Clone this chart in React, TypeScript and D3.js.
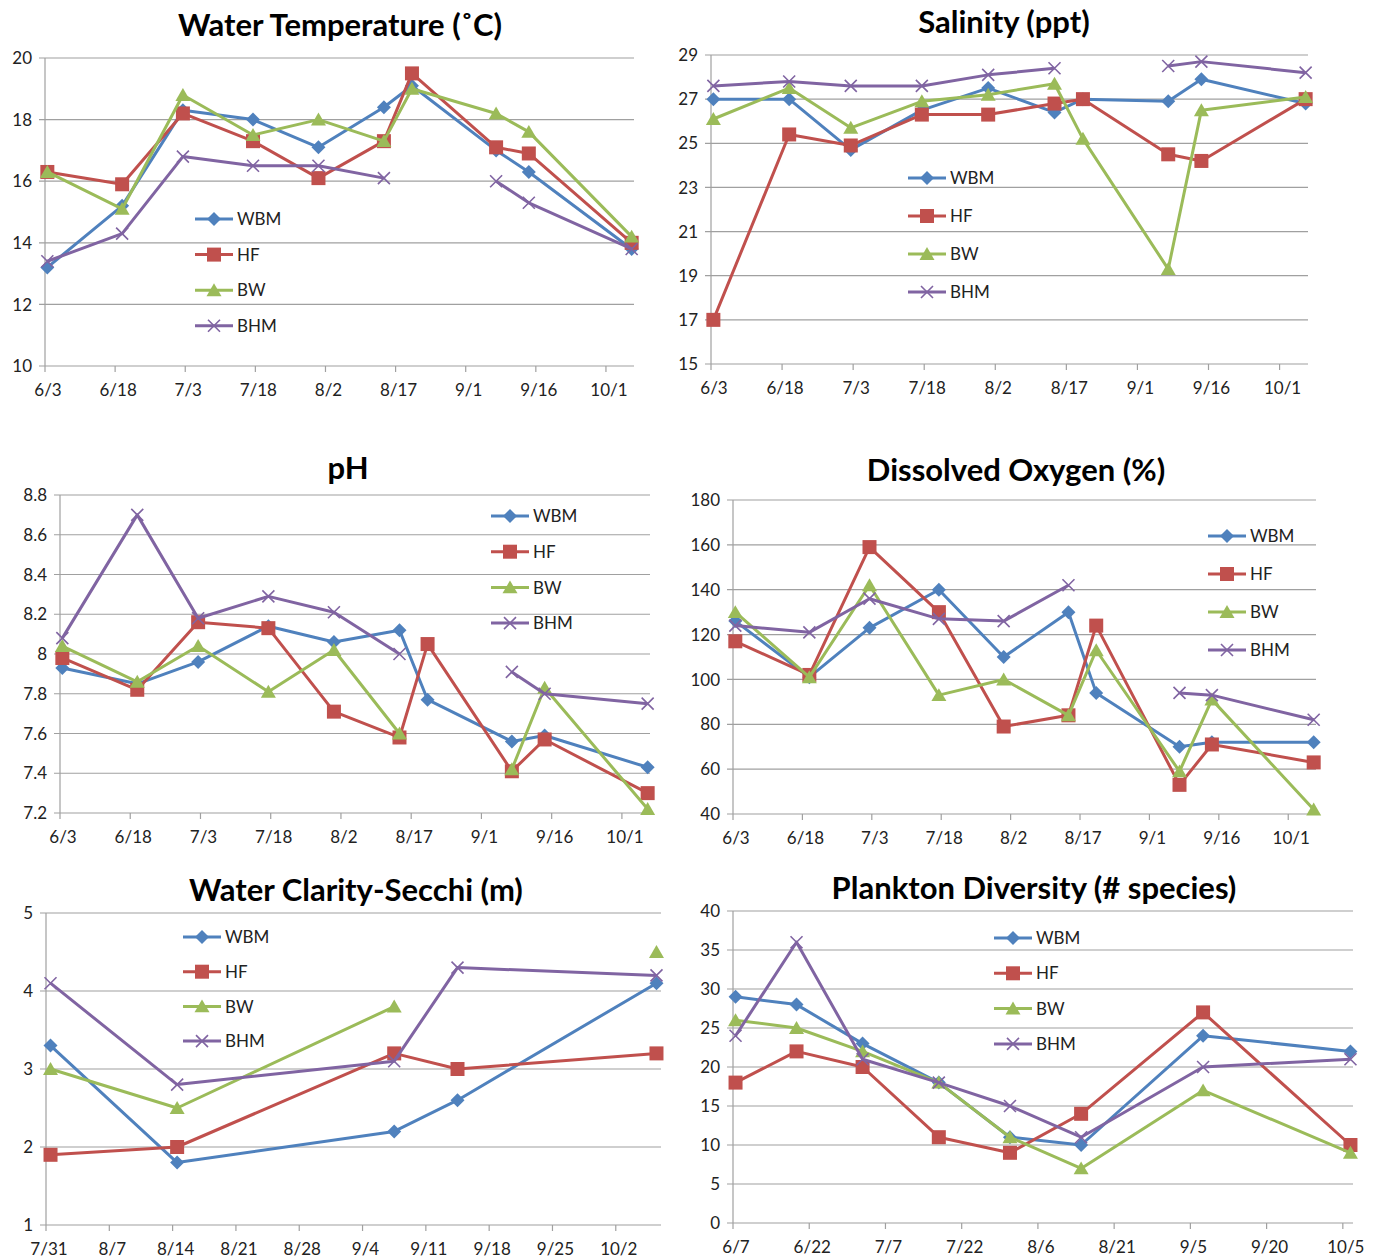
import React, { useEffect, useRef } from 'react';
import * as d3 from 'd3';

// series shared by every panel
const seriesNames = ['WBM', 'HF', 'BW', 'BHM'];
const seriesColors = ['#4F81BD', '#C0504D', '#9BBB59', '#8064A2'];
const seriesMarkers = ['diamond', 'square', 'triangle', 'cross'];

// sampling dates
const sampleDates = ['6/3', '6/19', '7/2', '7/17', '7/31', '8/14', '8/20', '9/7', '9/14', '10/6'];
const secchiDates = ['7/31', '8/14', '9/7', '9/14', '10/6'];
const planktonDates = ['6/7', '6/19', '7/2', '7/17', '7/31', '8/14', '9/7', '10/6'];

type V = number | null;

// Water temperature (C)
const tempWBM: V[] = [13.2, 15.2, 18.3, 18.0, 17.1, 18.4, 19.1, 17.0, 16.3, 13.8];
const tempHF: V[] = [16.3, 15.9, 18.2, 17.3, 16.1, 17.3, 19.5, 17.1, 16.9, 14.0];
const tempBW: V[] = [16.3, 15.1, 18.8, 17.5, 18.0, 17.3, 19.0, 18.2, 17.6, 14.2];
const tempBHM: V[] = [13.4, 14.3, 16.8, 16.5, 16.5, 16.1, null, 16.0, 15.3, 13.8];

// Salinity (ppt)
const salWBM: V[] = [27.0, 27.0, 24.7, 26.5, 27.5, 26.4, 27.0, 26.9, 27.9, 26.8];
const salHF: V[] = [17.0, 25.4, 24.9, 26.3, 26.3, 26.8, 27.0, 24.5, 24.2, 27.0];
const salBW: V[] = [26.1, 27.5, 25.7, 26.9, 27.2, 27.7, 25.2, 19.3, 26.5, 27.1];
const salBHM: V[] = [27.6, 27.8, 27.6, 27.6, 28.1, 28.4, null, 28.5, 28.7, 28.2];

// pH
const phWBM: V[] = [7.93, 7.85, 7.96, 8.14, 8.06, 8.12, 7.77, 7.56, 7.59, 7.43];
const phHF: V[] = [7.98, 7.82, 8.16, 8.13, 7.71, 7.58, 8.05, 7.41, 7.57, 7.3];
const phBW: V[] = [8.04, 7.86, 8.04, 7.81, 8.02, 7.6, null, 7.42, 7.83, 7.22];
const phBHM: V[] = [8.08, 8.7, 8.18, 8.29, 8.21, 8.0, null, 7.91, 7.8, 7.75];

// Dissolved oxygen (%)
const doWBM: V[] = [126, 101, 123, 140, 110, 130, 94, 70, 72, 72];
const doHF: V[] = [117, 102, 159, 130, 79, 84, 124, 53, 71, 63];
const doBW: V[] = [130, 101, 142, 93, 100, 84, 113, 59, 91, 42];
const doBHM: V[] = [124, 121, 136, 127, 126, 142, null, 94, 93, 82];

// Secchi depth (m)
const secWBM: V[] = [3.3, 1.8, 2.2, 2.6, 4.1];
const secHF: V[] = [1.9, 2.0, 3.2, 3.0, 3.2];
const secBW: V[] = [3.0, 2.5, 3.8, null, 4.5];
const secBHM: V[] = [4.1, 2.8, 3.1, 4.3, 4.2];

// Plankton diversity (# species)
const plWBM: V[] = [29, 28, 23, 18, 11, 10, 24, 22];
const plHF: V[] = [18, 22, 20, 11, 9, 14, 27, 10];
const plBW: V[] = [26, 25, 22, 18, 11, 7, 17, 9];
const plBHM: V[] = [24, 36, 21, 18, 15, 11, 20, 21];

interface Panel {
  title: string;
  dates: string[];
  series: V[][];
  yMin: number;
  yMax: number;
  yStep: number;
  axisStart: string;
  axisEnd: string;
  tickStep: number;
  left: number;
  right: number;
  top: number;
  bottom: number;
  titleX: number;
  titleY: number;
  legendX: number;
  legendY: number;
  legendGap: number;
}

const panels: Panel[] = [
  {
    title: 'Water Temperature (˚C)', dates: sampleDates, series: [tempWBM, tempHF, tempBW, tempBHM],
    yMin: 10, yMax: 20, yStep: 2, axisStart: '6/3', axisEnd: '10/7', tickStep: 15,
    left: 45, right: 634, top: 58, bottom: 366, titleX: 340, titleY: 36,
    legendX: 195, legendY: 219, legendGap: 35.6,
  },
  {
    title: 'Salinity (ppt)', dates: sampleDates, series: [salWBM, salHF, salBW, salBHM],
    yMin: 15, yMax: 29, yStep: 2, axisStart: '6/3', axisEnd: '10/7', tickStep: 15,
    left: 711, right: 1308, top: 55, bottom: 364, titleX: 1004, titleY: 33,
    legendX: 908, legendY: 178, legendGap: 38,
  },
  {
    title: 'pH', dates: sampleDates, series: [phWBM, phHF, phBW, phBHM],
    yMin: 7.2, yMax: 8.8, yStep: 0.2, axisStart: '6/3', axisEnd: '10/7', tickStep: 15,
    left: 60, right: 650, top: 495, bottom: 813, titleX: 348, titleY: 479,
    legendX: 491, legendY: 516, legendGap: 35.7,
  },
  {
    title: 'Dissolved Oxygen (%)', dates: sampleDates, series: [doWBM, doHF, doBW, doBHM],
    yMin: 40, yMax: 180, yStep: 20, axisStart: '6/3', axisEnd: '10/7', tickStep: 15,
    left: 733, right: 1316, top: 500, bottom: 814, titleX: 1016, titleY: 481,
    legendX: 1208, legendY: 536, legendGap: 38,
  },
  {
    title: 'Water Clarity-Secchi (m)', dates: secchiDates, series: [secWBM, secHF, secBW, secBHM],
    yMin: 1, yMax: 5, yStep: 1, axisStart: '7/31', axisEnd: '10/7', tickStep: 7,
    left: 46, right: 661, top: 913, bottom: 1225, titleX: 356, titleY: 901,
    legendX: 183, legendY: 937, legendGap: 34.7,
  },
  {
    title: 'Plankton Diversity (# species)', dates: planktonDates, series: [plWBM, plHF, plBW, plBHM],
    yMin: 0, yMax: 40, yStep: 5, axisStart: '6/7', axisEnd: '10/7', tickStep: 15,
    left: 733, right: 1353, top: 911, bottom: 1223, titleX: 1034, titleY: 899,
    legendX: 994, legendY: 938, legendGap: 35.3,
  },
];

const parseDate = (s: string) => d3.timeParse('%m/%d/%Y')(`${s}/2009`) as Date;
const fmtTick = d3.timeFormat('%-m/%-d');
const FONT = 'Lato, "Open Sans", sans-serif';

function drawMarker(g: d3.Selection<SVGGElement, unknown, null, undefined>, kind: string, x: number, y: number, color: string) {
  if (kind === 'diamond') {
    const r = 7;
    g.append('path').attr('d', `M${x},${y - r}L${x + r},${y}L${x},${y + r}L${x - r},${y}Z`).attr('fill', color);
  } else if (kind === 'square') {
    const s = 7;
    g.append('rect').attr('x', x - s).attr('y', y - s).attr('width', 2 * s).attr('height', 2 * s).attr('fill', color);
  } else if (kind === 'triangle') {
    const w = 7.5, h = 7;
    g.append('path').attr('d', `M${x},${y - h}L${x + w},${y + h * 0.85}L${x - w},${y + h * 0.85}Z`).attr('fill', color);
  } else {
    const r = 6;
    g.append('path').attr('d', `M${x - r},${y - r}L${x + r},${y + r}M${x - r},${y + r}L${x + r},${y - r}`)
      .attr('stroke', color).attr('stroke-width', 1.6).attr('fill', 'none');
  }
}

const App: React.FC = () => {
  const svgRef = useRef<SVGSVGElement>(null);

  useEffect(() => {
    if (!svgRef.current) return;
    const svg = d3.select(svgRef.current);
    svg.selectAll('*').remove();

    panels.forEach((p) => {
      const g = svg.append('g');
      const start = parseDate(p.axisStart);
      const end = parseDate(p.axisEnd);
      const x = d3.scaleTime().domain([start, end]).range([p.left, p.right]);
      const y = d3.scaleLinear().domain([p.yMin, p.yMax]).range([p.bottom, p.top]);

      // gridlines + y labels
      const yTicks = d3.range(p.yMin, p.yMax + p.yStep / 2, p.yStep).map((v) => Math.round(v * 100) / 100);
      yTicks.forEach((v) => {
        g.append('line')
          .attr('x1', p.left - 6).attr('x2', p.right)
          .attr('y1', y(v)).attr('y2', y(v))
          .attr('stroke', '#A0A0A0').attr('stroke-width', 1.2);
        g.append('text')
          .attr('x', p.left - 13).attr('y', y(v)).attr('dy', '0.36em')
          .attr('text-anchor', 'end')
          .attr('font-family', FONT).attr('font-size', 17).attr('fill', '#222')
          .text(String(v));
      });

      // y axis line
      g.append('line')
        .attr('x1', p.left).attr('x2', p.left)
        .attr('y1', p.top).attr('y2', p.bottom)
        .attr('stroke', '#A0A0A0').attr('stroke-width', 1.2);

      // x ticks
      const xTicks = d3.timeDay.range(start, end, p.tickStep);
      xTicks.forEach((d) => {
        g.append('line')
          .attr('x1', x(d)).attr('x2', x(d))
          .attr('y1', p.bottom).attr('y2', p.bottom + 6)
          .attr('stroke', '#A0A0A0').attr('stroke-width', 1.2);
        g.append('text')
          .attr('x', x(d) + 3).attr('y', p.bottom + 30)
          .attr('text-anchor', 'middle')
          .attr('font-family', FONT).attr('font-size', 17).attr('fill', '#222')
          .text(fmtTick(d));
      });

      // title
      g.append('text')
        .attr('x', p.titleX).attr('y', p.titleY)
        .attr('text-anchor', 'middle')
        .attr('font-family', FONT).attr('font-weight', 'bold').attr('font-size', 31).attr('fill', '#000')
        .text(p.title);

      // series
      const pts = p.dates.map((s) => d3.timeHour.offset(parseDate(s), 12));
      p.series.forEach((vals, si) => {
        const color = seriesColors[si];
        const data = vals.map((v, i) => ({ d: pts[i], v }));
        const line = d3.line<{ d: Date; v: V }>()
          .defined((e) => e.v !== null)
          .x((e) => x(e.d))
          .y((e) => y(e.v as number));
        g.append('path')
          .datum(data)
          .attr('d', line)
          .attr('fill', 'none')
          .attr('stroke', color)
          .attr('stroke-width', 3)
          .attr('stroke-linejoin', 'round');
        data.forEach((e) => {
          if (e.v === null) return;
          drawMarker(g, seriesMarkers[si], x(e.d), y(e.v), color);
        });
      });

      // legend
      seriesNames.forEach((name, si) => {
        const ly = p.legendY + si * p.legendGap;
        g.append('line')
          .attr('x1', p.legendX).attr('x2', p.legendX + 38)
          .attr('y1', ly).attr('y2', ly)
          .attr('stroke', seriesColors[si]).attr('stroke-width', 3);
        drawMarker(g, seriesMarkers[si], p.legendX + 19, ly, seriesColors[si]);
        g.append('text')
          .attr('x', p.legendX + 42).attr('y', ly).attr('dy', '0.36em')
          .attr('font-family', FONT).attr('font-size', 17).attr('fill', '#222')
          .text(name);
      });
    });
  }, []);

  return (
    <div style={{ position: 'absolute', left: 0, top: 0 }}>
      <svg ref={svgRef} width={1381} height={1260} style={{ display: 'block', background: '#fff' }} />
    </div>
  );
};

export default App;
